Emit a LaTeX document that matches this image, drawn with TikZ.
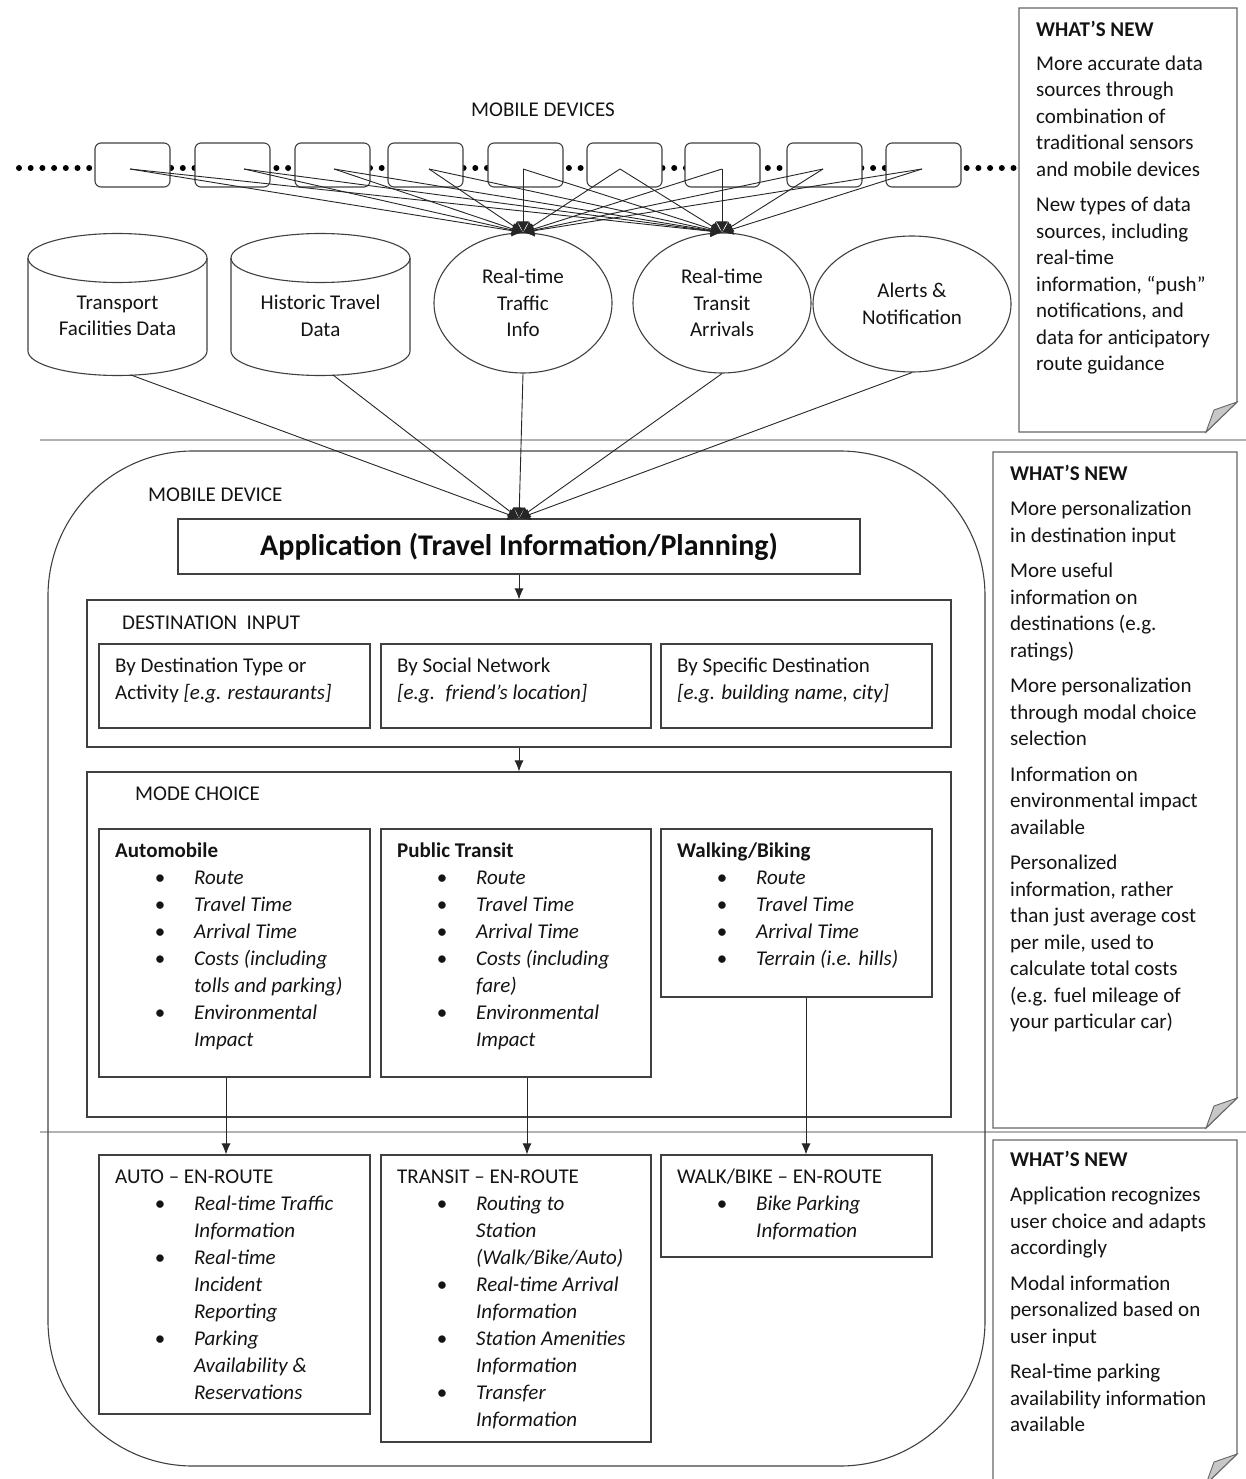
\documentclass[tikz,border=0pt]{standalone}
\usepackage{fontspec}
\setmainfont{Carlito}
\usetikzlibrary{shapes.geometric,arrows.meta}

% bullet column: bullet centred 45pt from the text margin, item text at 79pt
\newcommand{\bu}{\hspace*{38pt}\makebox[14pt]{\textbullet}\hspace*{27pt}}
\newcommand{\ct}{\hspace*{79pt}}
\newcommand{\blk}[2]{\parbox[t]{#1}{\raggedright #2}}

% a "what's new" sheet with a curled lower right corner
\newcommand{\drawnote}[4]{%
  \draw[notesheet] (#1,#2) -- (#3,#2) -- (#3,#4-30) -- (#3-31,#4) -- (#1,#4) -- cycle;
  \draw[notefold] (#3,#4-30) -- (#3-23,#4-22) -- (#3-31,#4) -- cycle;}

% a database drum: centre x
\newcommand{\drum}[1]{%
  \draw[boxline, fill=white] (#1-89.5,258) -- (#1-89.5,351)
     arc[start angle=180, end angle=360, x radius=89.5pt, y radius=24.5pt] -- (#1+89.5,258);
  \draw[boxline] (#1,258) ellipse [x radius=89.5pt, y radius=24.5pt];}

\tikzset{
  boxline/.style={draw=black!75, line width=1.1pt},
  frame/.style={boxline, inner sep=0pt},
  txt/.style={inner sep=0pt, anchor=base west, text=black!92,
              font=\fontsize{21}{27}\selectfont},
  notetxt/.style={txt, font=\fontsize{21}{26.5}\selectfont},
  ctxt/.style={inner sep=0pt, align=center, text=black!92,
              font=\fontsize{21}{26.5}\selectfont},
  link/.style={draw=black!85, line width=0.9pt},
  feed/.style={link, -{Latex[length=11pt,width=12pt]}},
  flow/.style={link, -{Latex[length=11pt,width=9pt]}},
  sepline/.style={draw=black!30, line width=2pt},
  device/.style={boxline, fill=white, rounded corners=6pt, minimum width=75pt,
                 minimum height=44pt, inner sep=0pt},
  source/.style={ellipse, boxline, fill=white, inner sep=0pt, align=center,
                 text=black!92, font=\fontsize{21}{26.5}\selectfont},
  notesheet/.style={draw=black!60, line width=1.3pt, fill=white},
  notefold/.style={draw=black!60, line width=0.9pt, fill=black!22},
  dotrow/.style={draw=black, line width=6pt, line cap=round,
                 dash pattern=on 0pt off 11.7pt}
}

\begin{document}
\begin{tikzpicture}[x=1pt,y=-1pt]
\useasboundingbox (0,0) rectangle (1246,1479);
\clip (0,0) rectangle (1246,1479);

% ---------- layer separators ----------
\coordinate (s1l) at (40,440);  \coordinate (s1r) at (1246,440);
\coordinate (s2l) at (40,1132); \coordinate (s2r) at (1246,1132);
\draw[sepline] (s1l) -- (s1r);
\draw[sepline] (s2l) -- (s2r);

% ---------- mobile devices row ----------
\node[txt, anchor=base] (mdlabel) at (543,117) {MOBILE DEVICES};
\coordinate (dotl) at (19,168); \coordinate (dotr) at (1016,168);
\draw[dotrow] (dotl) -- (dotr);

\foreach \i/\x/\px in {1/132.5/130, 2/232.5/244, 3/332.5/334, 4/425.5/429,
                      5/525.5/523, 6/624.5/620, 7/722.5/722, 8/824.5/823, 9/923.5/922}{
  \node[device] (dev\i) at (\x,165) {};
  \coordinate (p\i) at (\px,169);
}

% ---------- data sources ----------
\drum{117.5}
\drum{320.5}
\node[ctxt] (tfd) at (117.5,316) {Transport\\Facilities Data};
\node[ctxt] (htd) at (320.5,316) {Historic Travel\\Data};
\coordinate (tfdb) at (131,375);
\coordinate (htdb) at (333,375);

\node[source, minimum width=178pt, minimum height=140pt] (rtt) at (523,303)
  {Real-time\\Traffic\\Info};
\node[source, minimum width=178pt, minimum height=140pt] (rta) at (722,303)
  {Real-time\\Transit\\Arrivals};
\node[source, minimum width=198pt, minimum height=136pt] (alr) at (912,304)
  {Alerts \&\\Notification};

\foreach \i in {1,...,9}{
  \draw[feed] (p\i) -- (rtt.north);
  \draw[feed] (p\i) -- (rta.north);
}

% ---------- mobile device ----------
\node[boxline, rounded corners=145pt, minimum width=937pt, minimum height=1015pt,
      inner sep=0pt] (phone) at (516.5,958.5) {};
\node[txt] (phonelabel) at (148,501) {MOBILE DEVICE};

\node[frame, minimum width=682pt, minimum height=55pt,
      font=\fontsize{30}{36}\selectfont\bfseries, text=black!95] (app) at (519,546.5)
  {Application (Travel Information/Planning)};

\draw[feed] (tfdb) -- (app.north);
\draw[feed] (htdb) -- (app.north);
\draw[feed] (rtt.south) -- (app.north);
\draw[feed] (rta.south) -- (app.north);
\draw[feed] (alr.south) -- (app.north);

% destination input
\node[frame, minimum width=864pt, minimum height=147pt] (dest) at (519,673.5) {};
\node[txt] (destlabel) at (122,629) {DESTINATION\hspace{0.45em}INPUT};
\node[frame, minimum width=271pt, minimum height=84pt] (dtype) at (234.5,686) {};
\node[frame, minimum width=270pt, minimum height=84pt] (dsoc) at (516,686) {};
\node[frame, minimum width=271pt, minimum height=84pt] (dspec) at (796.5,686) {};
\node[txt] (dtypetx) at (115,672) {\blk{250pt}{By Destination Type or\\
  Activity \textit{[e.g. restaurants]}}};
\node[txt] (dsoctx) at (397,672) {\blk{250pt}{By Social Network\\
  \textit{[e.g.\hspace{0.5em}friend’s location]}}};
\node[txt] (dspectx) at (677,672) {\blk{250pt}{By Specific Destination\\
  \textit{[e.g. building name, city]}}};

\draw[flow] (app.south) -- (dest.north);

% mode choice
\node[frame, minimum width=864pt, minimum height=345pt] (mode) at (519,944.5) {};
\node[txt] (modelabel) at (135,800) {MODE CHOICE};
\draw[flow] (dest.south) -- (mode.north);

\node[frame, minimum width=271pt, minimum height=248pt] (auto) at (234.5,953) {};
\node[frame, minimum width=270pt, minimum height=248pt] (pt) at (516,953) {};
\node[frame, minimum width=271pt, minimum height=168pt] (walk) at (796.5,913) {};

\node[txt] (autotx) at (115,857) {\blk{260pt}{\textbf{Automobile}\\
  \bu\textit{Route}\\
  \bu\textit{Travel Time}\\
  \bu\textit{Arrival Time}\\
  \bu\textit{Costs (including}\\
  \ct\textit{tolls and parking)}\\
  \bu\textit{Environmental}\\
  \ct\textit{Impact}}};
\node[txt] (pttx) at (397,857) {\blk{260pt}{\textbf{Public Transit}\\
  \bu\textit{Route}\\
  \bu\textit{Travel Time}\\
  \bu\textit{Arrival Time}\\
  \bu\textit{Costs (including}\\
  \ct\textit{fare)}\\
  \bu\textit{Environmental}\\
  \ct\textit{Impact}}};
\node[txt] (walktx) at (677,857) {\blk{260pt}{\textbf{Walking/Biking}\\
  \bu\textit{Route}\\
  \bu\textit{Travel Time}\\
  \bu\textit{Arrival Time}\\
  \bu\textit{Terrain (i.e. hills)}}};

% en-route
\node[frame, minimum width=271pt, minimum height=259pt] (autoer) at (234.5,1284.5) {};
\node[frame, minimum width=270pt, minimum height=287pt] (pter) at (516,1298.5) {};
\node[frame, minimum width=271pt, minimum height=102pt] (walker) at (796.5,1206) {};

\draw[flow] ([xshift=-8.5pt]auto.south) -- ([xshift=-8.5pt]autoer.north);
\draw[flow] ([xshift=11pt]pt.south) -- ([xshift=11pt]pter.north);
\draw[flow] ([xshift=9.5pt]walk.south) -- ([xshift=9.5pt]walker.north);

\node[txt] (autoertx) at (115,1183) {\blk{260pt}{AUTO -- EN-ROUTE\\
  \bu\textit{Real-time Traffic}\\
  \ct\textit{Information}\\
  \bu\textit{Real-time}\\
  \ct\textit{Incident}\\
  \ct\textit{Reporting}\\
  \bu\textit{Parking}\\
  \ct\textit{Availability \&}\\
  \ct\textit{Reservations}}};
\node[txt] (ptertx) at (397,1183) {\blk{260pt}{TRANSIT -- EN-ROUTE\\
  \bu\textit{Routing to}\\
  \ct\textit{Station}\\
  \ct\textit{(Walk/Bike/Auto)}\\
  \bu\textit{Real-time Arrival}\\
  \ct\textit{Information}\\
  \bu\textit{Station Amenities}\\
  \ct\textit{Information}\\
  \bu\textit{Transfer}\\
  \ct\textit{Information}}};
\node[txt] (walkertx) at (677,1183) {\blk{260pt}{WALK/BIKE -- EN-ROUTE\\
  \bu\textit{Bike Parking}\\
  \ct\textit{Information}}};

% ---------- what's new sheets ----------
\drawnote{1019}{8}{1237}{432}
\node[notetxt] (new1) at (1036,37) {\blk{220pt}{\textbf{WHAT’S NEW}\\[7pt]
  More accurate data\\ sources through\\ combination of\\ traditional sensors\\
  and mobile devices\\[9pt]
  New types of data\\ sources, including\\ real-time\\ information, “push”\\
  notifications, and\\ data for anticipatory\\ route guidance}};

\drawnote{993}{452}{1237}{1128}
\node[notetxt] (new2) at (1010,480) {\blk{230pt}{\textbf{WHAT’S NEW}\\[9pt]
  More personalization\\ in destination input\\[9pt]
  More useful\\ information on\\ destinations (e.g.\\ ratings)\\[9pt]
  More personalization\\ through modal choice\\ selection\\[9pt]
  Information on\\ environmental impact\\ available\\[9pt]
  Personalized\\ information, rather\\ than just average cost\\ per mile, used to\\
  calculate total costs\\ (e.g. fuel mileage of\\ your particular car)}};

\drawnote{993}{1140}{1237}{1484}
\node[notetxt] (new3) at (1010,1166) {\blk{230pt}{\textbf{WHAT’S NEW}\\[9pt]
  Application recognizes\\ user choice and adapts\\ accordingly\\[9pt]
  Modal information\\ personalized based on\\ user input\\[9pt]
  Real-time parking\\ availability information\\ available}};
\end{tikzpicture}
\end{document}
